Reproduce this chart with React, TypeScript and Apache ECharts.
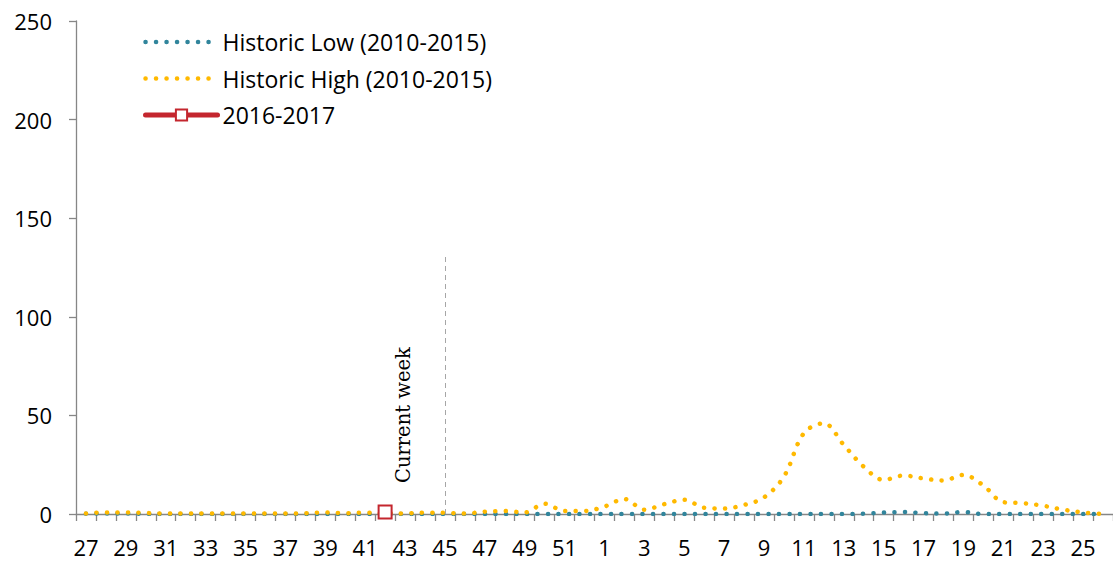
import React, { useEffect, useRef } from "react";
import * as echarts from "echarts";

const weeks = [
  "27", "28", "29", "30", "31", "32", "33", "34", "35", "36", "37", "38", "39",
  "40", "41", "42", "43", "44", "45", "46", "47", "48", "49", "50", "51", "52",
  "1", "2", "3", "4", "5", "6", "7", "8", "9", "10", "11", "12", "13",
  "14", "15", "16", "17", "18", "19", "20", "21", "22", "23", "24", "25", "26",
];

const historicLow = [
  0.1, 0.3, 0.3, 0.1, 0, 0, 0, 0, 0, 0, 0, 0, 0,
  0, 0, 0, 0, 0, 0, 0, 0, 0, 0, 0, 0, 0,
  0, 0, 0, 0, 0, 0, 0, 0, 0, 0, 0, 0, 0,
  0.2, 0.7, 1.0, 0.4, 0.2, 1.0, 0, 0, 0, 0, 0, 0, 0,
];

const historicHigh = [
  0.3, 0.8, 0.8, 0.5, 0.2, 0.2, 0.2, 0.2, 0.2, 0.2, 0.2, 0.4, 0.8,
  0.4, 0.7, 0.4, 0.3, 0.7, 0.6, 0.2, 1.2, 1.5, 0.8, 5.2, 1.5, 1.5,
  3.8, 7.6, 2.2, 5.0, 7.2, 3.2, 2.8, 4.6, 8.4, 19, 41, 46, 35,
  24, 17.3, 19.5, 18, 17, 19.8, 14.5, 6, 5.5, 4.2, 2.2, 0.8, 0,
];

const season2016 = weeks.map((w) => (w === "42" ? 1 : null));

const currentWeek = "45";
const currentWeekLineTop = 131;
const yTicks = { min: 0, max: 250, interval: 50 };

const FONT = "'Open Sans', sans-serif";
const LOW_COLOR = "#31859C";
const HIGH_COLOR = "#FFB900";
const RED = "#C4262E";
const DOTS = { width: 4.5, type: [0.1, 10.4], cap: "round" };

export default function App() {
  const ref = useRef<HTMLDivElement>(null);
  useEffect(() => {
    if (!ref.current) return;
    const chart = echarts.init(ref.current, undefined, { renderer: "svg" });
    chart.setOption({
      animation: false,
      backgroundColor: "#ffffff",
      textStyle: { fontFamily: FONT },
      grid: { left: 76, right: -4, top: 21, bottom: 48, containLabel: false },
      legend: {
        orient: "vertical",
        left: 143,
        top: 29,
        padding: 0,
        itemWidth: 72,
        itemHeight: 14,
        itemGap: 10.5,
        textStyle: { fontSize: 23, color: "#000", fontFamily: FONT, lineHeight: 26 },
        data: [
          {
            name: "Historic Low (2010-2015)",
            itemStyle: { opacity: 0 },
            lineStyle: { color: LOW_COLOR, ...DOTS },
          },
          {
            name: "Historic High (2010-2015)",
            itemStyle: { opacity: 0 },
            lineStyle: { color: HIGH_COLOR, ...DOTS },
          },
          {
            name: "2016-2017",
            lineStyle: { color: RED, width: 5, cap: "round" },
          },
        ],
      },
      xAxis: {
        type: "category",
        data: weeks,
        boundaryGap: true,
        axisLine: { show: true, lineStyle: { color: "#868686", width: 1.3 } },
        axisTick: { show: true, interval: 0, length: 7, lineStyle: { color: "#868686", width: 1.3 } },
        axisLabel: { interval: 1, fontSize: 22, color: "#000", margin: 22, fontFamily: FONT },
        splitLine: { show: false },
      },
      yAxis: {
        type: "value",
        min: yTicks.min,
        max: yTicks.max,
        interval: yTicks.interval,
        axisLine: { show: true, lineStyle: { color: "#868686", width: 1.3 } },
        axisTick: { show: true, length: 7, lineStyle: { color: "#868686", width: 1.3 } },
        axisLabel: { fontSize: 22, color: "#000", margin: 24, fontFamily: FONT },
        splitLine: { show: false },
      },
      series: [
        {
          name: "Historic Low (2010-2015)",
          type: "line",
          data: historicLow,
          smooth: 0.35,
          symbol: "none",
          color: LOW_COLOR,
          lineStyle: { color: LOW_COLOR, ...DOTS },
        },
        {
          name: "Historic High (2010-2015)",
          type: "line",
          data: historicHigh,
          smooth: 0.35,
          symbol: "none",
          color: HIGH_COLOR,
          lineStyle: { color: HIGH_COLOR, ...DOTS },
        },
        {
          name: "2016-2017",
          type: "line",
          data: season2016,
          symbol: "rect",
          symbolSize: 13,
          itemStyle: { color: "#ffffff", borderColor: RED, borderWidth: 2 },
          lineStyle: { color: RED, width: 5 },
          markLine: {
            silent: true,
            symbol: "none",
            label: { show: false },
            lineStyle: { color: "#A6A6A6", type: [5, 4], width: 1 },
            data: [[{ coord: [currentWeek, 0] }, { coord: [currentWeek, currentWeekLineTop] }]],
          },
        },
      ],
      graphic: [
        {
          type: "text",
          x: 403,
          y: 483,
          rotation: Math.PI / 2,
          style: {
            text: "Current week",
            fontFamily: "'DejaVu Serif', serif",
            fontSize: 19.5,
            fill: "#000",
            align: "left",
            verticalAlign: "middle",
          },
        },
      ],
    });
    return () => chart.dispose();
  }, []);
  return (
    <div
      ref={ref}
      style={{ position: "absolute", left: 0, top: 0, width: 1113, height: 562 }}
    />
  );
}
